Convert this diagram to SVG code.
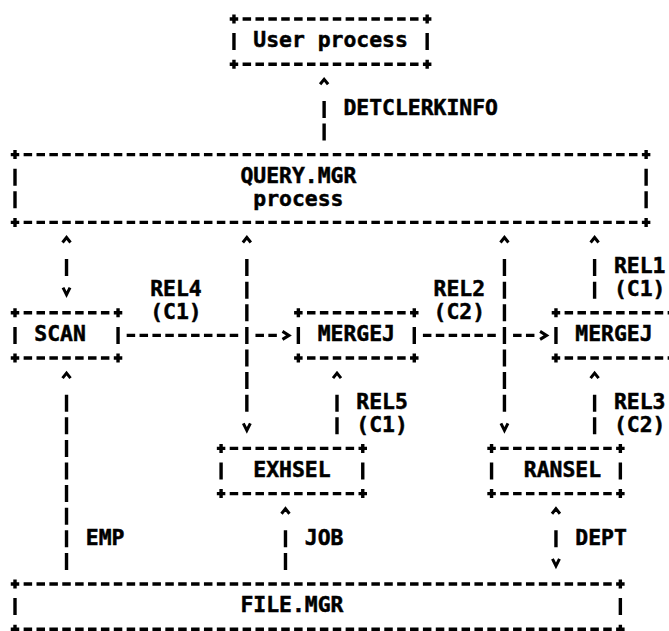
<svg xmlns="http://www.w3.org/2000/svg" width="669" height="631" viewBox="0 0 669 631">
<style>
.h{stroke:#000;stroke-width:3.4;stroke-dasharray:8.5 4.38;fill:none}
.s{stroke:#000;stroke-width:3.4;fill:none}
.v{stroke:#000;stroke-width:3.4;stroke-dasharray:17 5.6;fill:none}
.a{stroke:#000;stroke-width:3;fill:none}
text{font-family:"DejaVu Sans Mono","Liberation Mono",monospace;font-weight:bold;font-size:21.4px;fill:#000;stroke:#000;stroke-width:0.5}
</style>
<rect width="669" height="631" fill="#fff"/>
<g id="user-process">
<path class="h" d="M229.71 19H431.41M229.71 64.2H431.41"/>
<path class="s" d="M233.96 14.5V23.5M233.96 33.1V50.1M233.96 59.7V68.7M427.16 14.5V23.5M427.16 33.1V50.1M427.16 59.7V68.7"/>
<text x="253.28" y="47.4">User process</text>
</g>
<g id="query-mgr">
<path class="h" d="M10.75 154.6H650.37M10.75 222.4H650.37"/>
<path class="s" d="M15 150.1V159.1M15 168.7V185.7M15 191.3V208.3M15 217.9V226.9M646.12 150.1V159.1M646.12 168.7V185.7M646.12 191.3V208.3M646.12 217.9V226.9"/>
<text x="240.4" y="183">QUERY.MGR</text>
<text x="253.28" y="205.6">process</text>
</g>
<g id="scan">
<path class="h" d="M10.75 312.8H122.29M10.75 358H122.29"/>
<path class="s" d="M15 308.3V317.3M15 326.9V343.9M15 353.5V362.5M118.04 308.3V317.3M118.04 326.9V343.9M118.04 353.5V362.5"/>
<text x="34.32" y="341.2">SCAN</text>
</g>
<g id="mergej-1">
<path class="h" d="M294.11 312.8H418.53M294.11 358H418.53"/>
<path class="s" d="M298.36 308.3V317.3M298.36 326.9V343.9M298.36 353.5V362.5M414.28 308.3V317.3M414.28 326.9V343.9M414.28 353.5V362.5"/>
<text x="317.68" y="341.2">MERGEJ</text>
</g>
<g id="mergej-2">
<path class="h" d="M551.71 312.8H680M551.71 358H680"/>
<path class="s" d="M555.96 308.3V317.3M555.96 326.9V343.9M555.96 353.5V362.5"/>
<text x="575.28" y="341.2">MERGEJ</text>
</g>
<g id="exhsel">
<path class="h" d="M216.83 448.4H367.01M216.83 493.6H367.01"/>
<path class="s" d="M221.08 443.9V452.9M221.08 462.5V479.5M221.08 489.1V498.1M362.76 443.9V452.9M362.76 462.5V479.5M362.76 489.1V498.1"/>
<text x="253.28" y="476.8">EXHSEL</text>
</g>
<g id="ransel">
<path class="h" d="M487.31 448.4H624.61M487.31 493.6H624.61"/>
<path class="s" d="M491.56 443.9V452.9M491.56 462.5V479.5M491.56 489.1V498.1M620.36 443.9V452.9M620.36 462.5V479.5M620.36 489.1V498.1"/>
<text x="523.76" y="476.8">RANSEL</text>
</g>
<g id="file-mgr">
<path class="h" d="M10.75 584H624.61M10.75 629.2H624.61"/>
<path class="s" d="M15 579.5V588.5M15 598.1V615.1M15 624.7V633.7M620.36 579.5V588.5M620.36 598.1V615.1M620.36 624.7V633.7"/>
<text x="240.4" y="612.4">FILE.MGR</text>
</g>
<g id="connectors">
<path class="v" d="M324.12 100.9V140.5M66.52 259.1V276.1M246.84 259.1V411.7M504.44 259.1V411.7M594.6 259.1V298.7M66.52 394.7V569.9M337 394.7V434.3M594.6 394.7V434.3M285.48 530.3V569.9M555.96 530.3V547.3"/>
<path class="h" d="M126.67 335.4H238.21M255.47 335.4H276.85M422.91 335.4H495.81M513.07 335.4H534.45"/>
<path class="a" d="M320.12 84.3L324.12 79.3L328.12 84.3M62.52 242.5L66.52 237.5L70.52 242.5M242.84 242.5L246.84 237.5L250.84 242.5M500.44 242.5L504.44 237.5L508.44 242.5M590.6 242.5L594.6 237.5L598.6 242.5M62.52 378.1L66.52 373.1L70.52 378.1M333 378.1L337 373.1L341 378.1M590.6 378.1L594.6 373.1L598.6 378.1M281.48 513.7L285.48 508.7L289.48 513.7M551.96 513.7L555.96 508.7L559.96 513.7"/>
<path class="a" d="M63.02 287.7L66.52 294.7L70.02 287.7M243.34 423.3L246.84 430.3L250.34 423.3M500.94 423.3L504.44 430.3L507.94 423.3M552.46 558.9L555.96 565.9L559.46 558.9"/>
<path class="a" d="M282.48 331.4L288.98 335.4L282.48 339.4M540.08 331.4L546.58 335.4L540.08 339.4"/>
<text x="343.44" y="115.2">DETCLERKINFO</text>
<text x="613.92" y="273.4">REL1</text>
<text x="613.92" y="296">(C1)</text>
<text x="150.24" y="296">REL4</text>
<text x="150.24" y="318.6">(C1)</text>
<text x="433.6" y="296">REL2</text>
<text x="433.6" y="318.6">(C2)</text>
<text x="356.32" y="409">REL5</text>
<text x="356.32" y="431.6">(C1)</text>
<text x="613.92" y="409">REL3</text>
<text x="613.92" y="431.6">(C2)</text>
<text x="85.84" y="544.6">EMP</text>
<text x="304.8" y="544.6">JOB</text>
<text x="575.28" y="544.6">DEPT</text>
</g>
</svg>
